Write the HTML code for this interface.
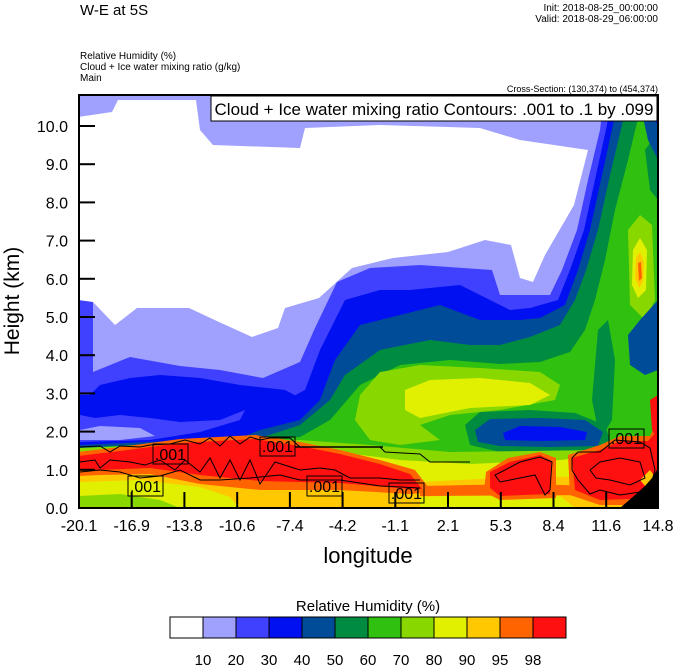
<!DOCTYPE html>
<html><head><meta charset="utf-8"><style>
html,body{margin:0;padding:0;background:#fff;}
svg{display:block;font-family:"Liberation Sans",Arial,sans-serif;}
</style></head><body>
<svg width="674" height="667" viewBox="0 0 674 667" xmlns="http://www.w3.org/2000/svg">
<defs><clipPath id="pc"><rect x="79" y="95" width="579" height="413"/></clipPath></defs>
<g clip-path="url(#pc)">
<rect x="79" y="95" width="579" height="413" fill="#30c010"/>
<!-- dark green upper -->
<polygon fill="#008c40" points="78,95 645,95 640,110 628,160 615,210 605,260 595,300 585,330 570,352 540,362 500,364 450,360 400,365 360,385 330,420 300,437 78,448"/>
<polygon fill="#008c40" points="598,330 608,320 615,360 612,420 600,440 592,400"/>
<polygon fill="#008c40" points="645,150 652,140 658,150 658,200 650,190"/>
<!-- right column greens -->
<polygon fill="#88d800" points="628,230 640,215 652,225 655,300 645,320 630,305"/>
<polygon fill="#e0f000" points="633,250 640,238 647,250 646,290 638,298 632,285"/>
<polygon fill="#ffc800" points="636,258 640,252 644,262 643,282 639,288 635,278"/>
<polygon fill="#ff6400" points="638,263 641,262 642,278 639,281"/>
<!-- navy -->
<polygon fill="#004c98" points="78,95 628,95 622,125 610,175 598,230 586,270 575,300 560,325 530,337 500,345 470,345 430,340 380,350 345,375 330,400 300,425 260,438 78,448"/>
<polygon fill="#004c98" points="658,300 640,320 628,335 630,365 645,375 658,370"/>
<polygon fill="#004c98" points="638,95 658,95 658,160 648,140"/>
<!-- dark blue -->
<polygon fill="#0010f0" points="78,95 617,95 613,125 602,175 590,230 578,270 565,305 540,318 520,320 480,320 440,305 400,315 360,325 335,360 320,400 300,420 260,430 240,438 78,445"/>
<polygon fill="#0010f0" points="645,95 658,95 658,125 650,115"/>
<!-- medium blue -->
<polygon fill="#4040ff" points="78,95 611,95 607,125 596,175 584,230 570,270 558,300 530,308 510,310 490,300 460,285 410,290 380,290 345,300 320,350 305,390 290,398 250,400 240,420 200,432 150,440 78,442"/>
<!-- dark blue patches in left -->
<polygon fill="#0010f0" points="90,395 100,385 130,378 160,375 200,378 240,385 285,390 300,398 285,405 250,408 220,420 180,422 150,418 120,415 95,418 80,415 80,395"/>
<!-- light blue -->
<polygon fill="#a0a0ff" points="78,95 604,95 600,130 588,180 577,230 562,270 550,295 500,295 492,270 420,265 370,268 337,282 315,328 300,362 263,378 220,370 180,366 130,357 93,372 93,300 78,300"/>
<polygon fill="#a0a0ff" points="80,430 100,426 140,428 155,436 120,440 80,440"/>
<!-- white -->
<polygon fill="#ffffff" points="78,117 112,112 118,100 196,100 200,130 213,145 300,148 305,128 380,125 480,128 520,140 588,150 574,205 545,255 533,282 520,278 511,245 485,240 448,252 393,258 352,268 319,298 285,308 278,328 252,337 219,322 189,308 137,308 115,325 93,302 78,300"/>
<!-- middle moist bands -->
<polygon fill="#88d800" points="360,395 380,372 420,365 480,368 540,372 560,385 555,400 500,410 450,415 420,425 440,440 400,445 370,440 355,420"/>
<polygon fill="#e0f000" points="405,390 430,380 480,378 530,383 550,395 530,405 470,408 420,418 405,410"/>
<polygon fill="#008c40" points="465,425 480,412 530,410 575,413 605,425 610,440 600,452 560,452 500,452 470,445"/>
<polygon fill="#004c98" points="475,430 490,419 540,418 585,420 603,432 598,446 550,447 500,446 478,442"/>
<polygon fill="#0010f0" points="503,433 520,426 560,427 587,432 585,440 540,441 505,440"/>
<!-- surface layers -->
<polygon fill="#88d800" points="78,448 300,440 370,445 450,452 600,450 658,438 658,508 78,508"/>
<polygon fill="#e0f000" points="78,452 300,447 400,460 470,464 560,460 658,450 658,508 78,508"/>
<polygon fill="#ffc800" points="78,468 200,466 300,472 420,482 500,478 600,476 658,468 658,508 78,508"/>
<polygon fill="#e0f000" points="78,482 140,480 200,487 230,497 240,508 78,508"/>
<polygon fill="#88d800" points="78,496 120,494 160,500 180,508 78,508"/>
<polygon fill="#e0f000" points="420,497 480,494 560,496 575,508 420,508"/>
<polygon fill="#ff6400" points="420,486 520,484 600,486 600,495 420,496"/>
<!-- left red band -->
<polygon fill="#ff6400" points="78,452 120,447 180,439 255,435 300,442 340,450 380,460 415,470 432,492 410,494 340,490 260,490 200,484 150,474 100,475 78,476"/>
<polygon fill="#ff1010" points="78,456 120,451 180,443 255,439 300,446 340,454 380,464 410,474 422,489 410,489 340,483 260,481 200,475 150,468 100,470 78,470"/>
<!-- mid-right red blob -->
<polygon fill="#ff6400" points="486,472 508,458 540,452 556,458 556,498 500,500 484,492"/>
<polygon fill="#ff1010" points="490,472 510,462 540,455 552,461 550,494 500,496 490,488"/>
<!-- right red blob -->
<polygon fill="#ff6400" points="568,455 600,445 620,436 650,436 658,420 658,505 600,505 570,495"/>
<polygon fill="#ff1010" points="572,458 600,450 620,441 648,441 658,430 658,498 600,500 575,490"/>
<polygon fill="#ff1010" points="650,400 658,395 658,440 652,430"/>
<polygon fill="#ffc800" points="640,480 650,470 656,478 650,492"/>
<!-- terrain -->
<polygon fill="#000" points="620,508 635,495 645,486 652,478 658,468 658,508"/>
<!-- contour lines -->
<g fill="none" stroke="#000" stroke-width="1">
<polyline points="80,447 100,446 110,452 120,446 140,447 150,445 170,444 185,440 200,444 210,438 220,446 230,436 240,444 250,437 260,440 270,438 290,438 300,447 380,447 385,452 420,454 430,462 470,462"/>
<polyline points="80,462 95,460 100,468 110,460 130,462 145,465 160,460 175,470 185,460 200,472 210,458 220,478 230,460 240,480 250,460 260,484 275,462 300,470 320,468 335,470 350,478 380,478 400,480 420,480"/>
<polyline points="80,472 100,470 120,472 140,478 160,476 180,470 200,480 220,480 250,478 280,475 300,480 340,480 380,486 420,488"/>
<polyline points="505,470 520,462 540,457 552,462 550,490 545,495 535,475 520,478 510,480 500,482 495,475 505,470"/>
<polyline points="572,458 578,452 600,452 615,440 640,442 650,448 655,470 650,488 640,492 620,495 600,490 590,494 578,480 572,470 572,458"/>
<polyline points="590,470 600,462 620,458 640,462 645,478 630,485 610,480 596,478 590,470"/>
</g>
<g fill="none" stroke="#000" stroke-width="1.5">
<line x1="295" y1="447" x2="383" y2="447"/>
</g>
<!-- .001 labels -->
<g fill="none" stroke="#000" stroke-width="1">
<rect x="153" y="444" width="35" height="20"/>
<rect x="128" y="476" width="35" height="20"/>
<rect x="260" y="437" width="35" height="19"/>
<rect x="307" y="476" width="35" height="20"/>
<rect x="389" y="483" width="35" height="20"/>
<rect x="609" y="429" width="35" height="19"/>
</g>
<g font-size="16" fill="#000" text-anchor="middle">
<text x="170.5" y="460">.001</text>
<text x="145.5" y="492">.001</text>
<text x="277.5" y="452">.001</text>
<text x="324.5" y="492">.001</text>
<text x="406.5" y="499">.001</text>
<text x="626.5" y="444">.001</text>
</g>
</g>
<!-- axes -->
<rect x="79" y="95" width="579" height="413" fill="none" stroke="#000" stroke-width="2"/>
<g stroke="#000" stroke-width="2">
<line x1="79" y1="469.8" x2="95" y2="469.8"/><line x1="79" y1="431.6" x2="95" y2="431.6"/>
<line x1="79" y1="393.4" x2="95" y2="393.4"/><line x1="79" y1="355.2" x2="95" y2="355.2"/>
<line x1="79" y1="317" x2="95" y2="317"/><line x1="79" y1="278.8" x2="95" y2="278.8"/>
<line x1="79" y1="240.6" x2="95" y2="240.6"/><line x1="79" y1="202.4" x2="95" y2="202.4"/>
<line x1="79" y1="164.2" x2="95" y2="164.2"/><line x1="79" y1="126" x2="95" y2="126"/>
<line x1="131.7" y1="508" x2="131.7" y2="492"/><line x1="184.4" y1="508" x2="184.4" y2="492"/>
<line x1="237.2" y1="508" x2="237.2" y2="492"/><line x1="289.9" y1="508" x2="289.9" y2="492"/>
<line x1="342.6" y1="508" x2="342.6" y2="492"/><line x1="395.3" y1="508" x2="395.3" y2="492"/>
<line x1="448" y1="508" x2="448" y2="492"/><line x1="500.8" y1="508" x2="500.8" y2="492"/>
<line x1="553.5" y1="508" x2="553.5" y2="492"/><line x1="606.2" y1="508" x2="606.2" y2="492"/>
</g>
<g font-size="16" fill="#000" text-anchor="end">
<text x="68" y="514">0.0</text><text x="68" y="475.8">1.0</text><text x="68" y="437.6">2.0</text>
<text x="68" y="399.4">3.0</text><text x="68" y="361.2">4.0</text><text x="68" y="323">5.0</text>
<text x="68" y="284.8">6.0</text><text x="68" y="246.6">7.0</text><text x="68" y="208.4">8.0</text>
<text x="68" y="170.2">9.0</text><text x="68" y="132">10.0</text>
</g>
<g font-size="16" fill="#000" text-anchor="middle">
<text x="79" y="531">-20.1</text><text x="131.7" y="531">-16.9</text><text x="184.4" y="531">-13.8</text>
<text x="237.2" y="531">-10.6</text><text x="289.9" y="531">-7.4</text><text x="342.6" y="531">-4.2</text>
<text x="395.3" y="531">-1.1</text><text x="448" y="531">2.1</text><text x="500.8" y="531">5.3</text>
<text x="553.5" y="531">8.4</text><text x="606.2" y="531">11.6</text><text x="658" y="531">14.8</text>
</g>
<text x="368" y="563" font-size="22" text-anchor="middle">longitude</text>
<text transform="translate(19,301) rotate(-90)" font-size="21" text-anchor="middle">Height (km)</text>
<!-- titles -->
<text x="80" y="15" font-size="15">W-E at 5S</text>
<text x="658" y="11" font-size="10" text-anchor="end">Init: 2018-08-25_00:00:00</text>
<text x="658" y="22" font-size="10" text-anchor="end">Valid: 2018-08-29_06:00:00</text>
<text x="80" y="59" font-size="10">Relative Humidity   (%)</text>
<text x="80" y="70" font-size="10">Cloud + Ice water mixing ratio   (g/kg)</text>
<text x="80" y="81" font-size="10">Main</text>
<text x="658" y="92" font-size="9" text-anchor="end">Cross-Section: (130,374) to (454,374)</text>
<rect x="211" y="96" width="446" height="25" fill="#fff" stroke="#000" stroke-width="1"/>
<text x="434" y="115" font-size="17" text-anchor="middle">Cloud + Ice water mixing ratio Contours: .001 to .1 by .099</text>
<!-- colorbar -->
<text x="368" y="611" font-size="15" text-anchor="middle">Relative Humidity  (%)</text>
<g stroke="#000" stroke-width="1">
<rect x="170" y="617" width="33" height="21" fill="#ffffff"/>
<rect x="203" y="617" width="33" height="21" fill="#a0a0ff"/>
<rect x="236" y="617" width="33" height="21" fill="#4040ff"/>
<rect x="269" y="617" width="33" height="21" fill="#0010f0"/>
<rect x="302" y="617" width="33" height="21" fill="#004c98"/>
<rect x="335" y="617" width="33" height="21" fill="#008c40"/>
<rect x="368" y="617" width="33" height="21" fill="#30c010"/>
<rect x="401" y="617" width="33" height="21" fill="#88d800"/>
<rect x="434" y="617" width="33" height="21" fill="#e0f000"/>
<rect x="467" y="617" width="33" height="21" fill="#ffc800"/>
<rect x="500" y="617" width="33" height="21" fill="#ff6400"/>
<rect x="533" y="617" width="33" height="21" fill="#ff1010"/>
</g>
<g font-size="15" text-anchor="middle">
<text x="203" y="665">10</text><text x="236" y="665">20</text><text x="269" y="665">30</text>
<text x="302" y="665">40</text><text x="335" y="665">50</text><text x="368" y="665">60</text>
<text x="401" y="665">70</text><text x="434" y="665">80</text><text x="467" y="665">90</text>
<text x="500" y="665">95</text><text x="533" y="665">98</text>
</g>
</svg>
</body></html>
